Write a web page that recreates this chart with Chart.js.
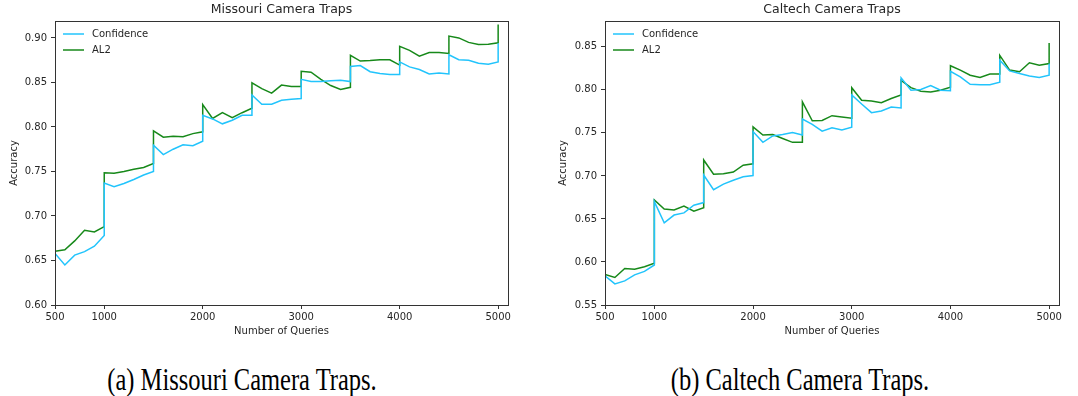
<!DOCTYPE html>
<html lang="en">
<head>
<meta charset="UTF-8">
<title>Camera Traps - Accuracy vs Number of Queries</title>
<script src="https://cdn.jsdelivr.net/npm/chart.js"></script>
<style>
  html, body { margin: 0; padding: 0; background: #fff; }
  body { width: 1078px; height: 396px; position: relative; overflow: hidden; }
  .panel { position: absolute; top: 0; height: 340px; }
  .caption {
    position: absolute; top: 362px; width: 440px; line-height: 36px;
    font-family: "Liberation Serif", "Times New Roman", serif; font-size: 31px;
    color: #000; text-align: center; white-space: nowrap;
    transform: scaleX(0.79); transform-origin: center;
  }
</style>
</head>
<body>
<div class="panel" style="left:0; width:540px;"><canvas id="missouri"></canvas></div>
<div class="panel" style="left:540px; width:538px;"><canvas id="caltech"></canvas></div>
<div class="caption" style="left:22px;">(a) Missouri Camera Traps.</div>
<div class="caption" style="left:580px;">(b) Caltech Camera Traps.</div>

<script>
// x positions: one point every 100 queries, repeated at each 500 step (the jump)
const queries = [
  500, 600, 700, 800, 900, 1000,
  1000, 1100, 1200, 1300, 1400, 1500,
  1500, 1600, 1700, 1800, 1900, 2000,
  2000, 2100, 2200, 2300, 2400, 2500,
  2500, 2600, 2700, 2800, 2900, 3000,
  3000, 3100, 3200, 3300, 3400, 3500,
  3500, 3600, 3700, 3800, 3900, 4000,
  4000, 4100, 4200, 4300, 4400, 4500,
  4500, 4600, 4700, 4800, 4900, 5000,
  5000
];

const missouriConfidence = [
  0.658, 0.645, 0.656, 0.660, 0.666, 0.678,
  0.737, 0.733, 0.7365, 0.741, 0.746, 0.750,
  0.7795, 0.769, 0.775, 0.780, 0.779, 0.784,
  0.813, 0.809, 0.8035, 0.8075, 0.813, 0.813,
  0.836, 0.8255, 0.8255, 0.830, 0.831, 0.832,
  0.8535, 0.851, 0.851, 0.852, 0.8525, 0.851,
  0.868, 0.869, 0.862, 0.860, 0.859, 0.859,
  0.873, 0.8675, 0.8645, 0.8595, 0.8605, 0.8595,
  0.881, 0.8755, 0.875, 0.8715, 0.8705, 0.873,
  0.894
];
const missouriAL2 = [
  0.6605, 0.662, 0.672, 0.684, 0.682, 0.688,
  0.7485, 0.748, 0.750, 0.7525, 0.7545, 0.759,
  0.7955, 0.7885, 0.7895, 0.789, 0.7925, 0.7945,
  0.825, 0.8095, 0.816, 0.8105, 0.816, 0.821,
  0.8495, 0.843, 0.838, 0.847, 0.8455, 0.8455,
  0.8625, 0.8615, 0.8535, 0.8465, 0.842, 0.8445,
  0.8805, 0.874, 0.8745, 0.8755, 0.8755, 0.8695,
  0.8905, 0.886, 0.8795, 0.8835, 0.8835, 0.8825,
  0.902, 0.900, 0.895, 0.8925, 0.893, 0.8945,
  0.915
];

const caltechConfidence = [
  0.584, 0.5745, 0.578, 0.585, 0.589, 0.5965,
  0.670, 0.6455, 0.6545, 0.657, 0.666, 0.669,
  0.701, 0.684, 0.6905, 0.695, 0.699, 0.7005,
  0.7515, 0.739, 0.7465, 0.748, 0.7505, 0.7475,
  0.766, 0.760, 0.752, 0.756, 0.7535, 0.7565,
  0.794, 0.7835, 0.7735, 0.7755, 0.780, 0.779,
  0.814, 0.7995, 0.8005, 0.805, 0.7995, 0.799,
  0.8215, 0.815, 0.8065, 0.806, 0.806, 0.809,
  0.8345, 0.822, 0.819, 0.816, 0.8145, 0.817,
  0.8305
];
const caltechAL2 = [
  0.5855, 0.582, 0.5925, 0.5915, 0.5945, 0.5985,
  0.672, 0.6615, 0.6605, 0.665, 0.659, 0.663,
  0.7185, 0.702, 0.7025, 0.7045, 0.7125, 0.714,
  0.757, 0.7475, 0.748, 0.7435, 0.739, 0.739,
  0.786, 0.764, 0.7645, 0.770, 0.7685, 0.767,
  0.8025, 0.788, 0.787, 0.785, 0.790, 0.794,
  0.811, 0.8025, 0.7985, 0.7975, 0.7995, 0.803,
  0.828, 0.823, 0.817, 0.8145, 0.8185, 0.8185,
  0.840, 0.823, 0.821, 0.8315, 0.8285, 0.8305,
  0.8545
];

const xTicks = [500, 1000, 2000, 3000, 4000, 5000];
const missouriYTicks = [0.60, 0.65, 0.70, 0.75, 0.80, 0.85, 0.90];
const caltechYTicks = [0.55, 0.60, 0.65, 0.70, 0.75, 0.80, 0.85];

const seriesNames = ['Confidence', 'AL2'];
const seriesColors = ['#22c4fc', '#17891a'];

const FONT = '"DejaVu Sans", sans-serif';
const INK = '#262626';

// matplotlib-style box, title over the axes, legend inside the axes
const frameAndLegend = {
  id: 'frameAndLegend',
  afterDatasetsDraw(chart, args, opts) {
    const {ctx, chartArea: a} = chart;
    ctx.save();
    ctx.strokeStyle = '#333';
    ctx.lineWidth = 1;
    ctx.strokeRect(Math.round(a.left) + 0.5, Math.round(a.top) + 0.5,
                   Math.round(a.right - a.left), Math.round(a.bottom - a.top));

    ctx.fillStyle = INK;
    ctx.font = '12.5px ' + FONT;
    ctx.textAlign = 'center';
    ctx.textBaseline = 'middle';
    ctx.fillText(opts.text, (a.left + a.right) / 2, 10);

    ctx.font = '10px ' + FONT;
    ctx.textAlign = 'left';
    chart.data.datasets.forEach((ds, i) => {
      const y = a.top + 13 + i * 16;
      ctx.strokeStyle = ds.borderColor;
      ctx.lineWidth = 1.5;
      ctx.beginPath();
      ctx.moveTo(a.left + 8, y);
      ctx.lineTo(a.left + 29, y);
      ctx.stroke();
      ctx.fillStyle = INK;
      ctx.fillText(ds.label, a.left + 37, y);
    });
    ctx.restore();
  }
};

function makeChart(id, title, seriesA, seriesB, yTicks, yMax, yAxisWidth, padRight, yTitlePad) {
  const datasets = [seriesA, seriesB].map((vals, i) => ({
    label: seriesNames[i],
    data: queries.map((q, k) => ({x: q, y: vals[k]})),
    borderColor: seriesColors[i],
    borderWidth: 1.5,
    pointRadius: 0,
    tension: 0,
    fill: false
  }));

  return new Chart(document.getElementById(id), {
    type: 'line',
    data: {datasets},
    plugins: [frameAndLegend],
    options: {
      responsive: true,
      maintainAspectRatio: false,
      animation: false,
      layout: {padding: {left: 0, right: padRight, top: 21, bottom: 0}},
      plugins: {
        legend: {display: false},
        tooltip: {enabled: false},
        title: {display: false},
        frameAndLegend: {text: title}
      },
      scales: {
        x: {
          type: 'linear', min: 500, max: 5100,
          afterBuildTicks: s => { s.ticks = xTicks.map(v => ({value: v})); },
          afterFit: s => { s.height = 35; },
          grid: {drawOnChartArea: false, drawTicks: true, tickLength: 4, color: '#333'},
          border: {display: true, color: '#333'},
          ticks: {color: INK, font: {family: FONT, size: 10}, padding: 2, maxRotation: 0,
                  callback: v => String(v)},
          title: {display: true, text: 'Number of Queries', color: INK,
                  font: {family: FONT, size: 10}, padding: {top: 0, bottom: 3}}
        },
        y: {
          type: 'linear', min: yTicks[0], max: yMax,
          afterBuildTicks: s => { s.ticks = yTicks.map(v => ({value: v})); },
          afterFit: s => { s.width = yAxisWidth; },
          grid: {drawOnChartArea: false, drawTicks: true, tickLength: 4, color: '#333'},
          border: {display: true, color: '#333'},
          ticks: {color: INK, font: {family: FONT, size: 10}, padding: 4,
                  callback: v => v.toFixed(2)},
          title: {display: true, text: 'Accuracy', color: INK,
                  font: {family: FONT, size: 10}, padding: {top: yTitlePad, bottom: 0}}
        }
      }
    }
  });
}

makeChart('missouri', 'Missouri Camera Traps', missouriConfidence, missouriAL2,
          missouriYTicks, 0.919, 55, 32, 8);
makeChart('caltech', 'Caltech Camera Traps', caltechConfidence, caltechAL2,
          caltechYTicks, 0.880, 65, 19, 17);
</script>
</body>
</html>
